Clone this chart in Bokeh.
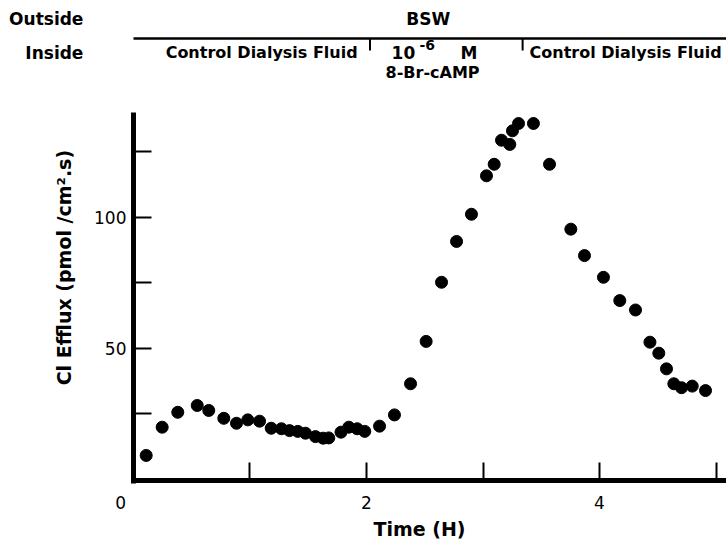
import math
from bokeh.plotting import figure
from bokeh.models import Range1d, FixedTicker
from bokeh.core.properties import value
from bokeh.embed import file_html
from bokeh.resources import INLINE

# ---- data ----
time_h = [0.109, 0.246, 0.380, 0.547, 0.646, 0.775, 0.884, 0.981, 1.082, 1.182,
          1.270, 1.339, 1.410, 1.476, 1.562, 1.628, 1.676, 1.781, 1.848, 1.920,
          1.985, 2.112, 2.240, 2.378, 2.512, 2.644, 2.773, 2.901, 3.030, 3.096,
          3.159, 3.230, 3.253, 3.305, 3.433, 3.571, 3.754, 3.871, 4.034, 4.174,
          4.309, 4.433, 4.509, 4.575, 4.638, 4.704, 4.796, 4.910]
cl_efflux = [9.0, 19.8, 25.5, 28.1, 26.2, 23.2, 21.3, 22.6, 22.1, 19.4,
             19.2, 18.5, 18.2, 17.5, 16.2, 15.6, 15.7, 17.9, 19.8, 19.2,
             18.2, 20.2, 24.5, 36.4, 52.6, 75.2, 90.8, 101.2, 115.9, 120.3,
             129.5, 127.9, 133.1, 135.9, 135.9, 120.3, 95.5, 85.4, 77.1, 68.2,
             64.6, 52.3, 48.1, 42.1, 36.4, 34.9, 35.5, 33.8]

x_ticks = [1, 2, 3, 4, 5]
x_tick_labels = {1: "", 2: "2", 3: "", 4: "4", 5: ""}
y_ticks = [25, 50, 75, 100, 125]
y_tick_labels = {25: "", 50: "50", 75: "", 100: "100", 125: ""}

treatment_start = 2.03   # h, 8-Br-cAMP added inside
treatment_end = 3.34     # h, back to control fluid

outside_label = "Outside"
inside_label = "Inside"
outside_medium = "BSW"
inside_phases = ["Control Dialysis Fluid", "Control Dialysis Fluid"]
drug_conc = ["10", "-6", "M"]
drug_name = "8-Br-cAMP"
x_title = "Time (H)"
y_title = "Cl Efflux (pmol /cm\u00b2.s)"

FONT = "DejaVu Sans"

# axis extents (data units)
X_MAX = 5.09
Y_MIN, Y_MAX = -0.57, 140.1

# frame covers the whole canvas; axes are pinned inside it
p = figure(width=726, height=543, output_backend="svg", toolbar_location=None,
           x_range=Range1d(-1.1416, 5.0901), y_range=Range1d(-24.66, 182.91),
           min_border_left=0, min_border_right=0, min_border_top=0,
           min_border_bottom=0)
p.outline_line_color = None
p.xgrid.visible = False
p.ygrid.visible = False
p.background_fill_color = "white"
p.border_fill_color = "white"

p.xaxis[0].fixed_location = Y_MIN
p.xaxis[0].bounds = (-0.02, X_MAX)
p.yaxis[0].fixed_location = 0
p.yaxis[0].bounds = (Y_MIN - 1.0, Y_MAX)

for ax, ticks, labels, standoff in ((p.xaxis[0], x_ticks, x_tick_labels, 16),
                                    (p.yaxis[0], y_ticks, y_tick_labels, 7)):
    ax.ticker = FixedTicker(ticks=ticks, minor_ticks=[])
    ax.major_label_overrides = labels
    ax.axis_line_width = 5
    ax.axis_line_color = "black"
    ax.major_tick_in = 18
    ax.major_tick_out = 0
    ax.major_tick_line_width = 2
    ax.major_tick_line_color = "black"
    ax.minor_tick_line_color = None
    ax.major_label_text_font = FONT
    ax.major_label_text_font_size = "17px"
    ax.major_label_text_color = "black"
    ax.major_label_standoff = standoff

p.scatter(time_h, cl_efflux, size=12, color="black")


def lbl(text, x, y, size="16px", bold=True, align="center", angle=0.0):
    p.text(x=[x], y=[y], text=[text], text_font=value(FONT),
           text_font_size=value(size),
           text_font_style="bold" if bold else "normal",
           text_align=align, text_baseline="middle", angle=angle,
           text_color="black")


# axis titles and the origin label
lbl("0", -0.11, -9.0, size="17px", bold=False)
lbl(x_title, 2.455, -19.3, size="19px")
lbl(y_title, -0.60, 80.8, size="19px", angle=math.pi / 2)

# header: solutions outside / inside
lbl(outside_label, -0.43, 176.0, size="17px", align="right")
lbl(inside_label, -0.43, 163.0, size="17px", align="right")
lbl(outside_medium, 2.53, 176.0, size="17px")
lbl(inside_phases[0], 1.10, 163.0)
lbl(inside_phases[1], 3.40, 163.0, align="left")
lbl(drug_conc[0], 2.215, 163.0, size="17px", align="left")
lbl(drug_conc[1], 2.455, 165.9, size="14px", align="left")
lbl(drug_conc[2], 2.807, 163.0, size="17px", align="left")
lbl(drug_name, 2.567, 155.4)

p.segment(x0=[0], y0=[168.4], x1=[X_MAX], y1=[168.4], line_width=2.5,
          line_color="black")
p.segment(x0=[treatment_start, treatment_end], y0=[168.4, 168.4],
          x1=[treatment_start, treatment_end], y1=[163.8, 163.8],
          line_width=2, line_color="black")

open("out.html", "w").write(file_html(p, INLINE))
